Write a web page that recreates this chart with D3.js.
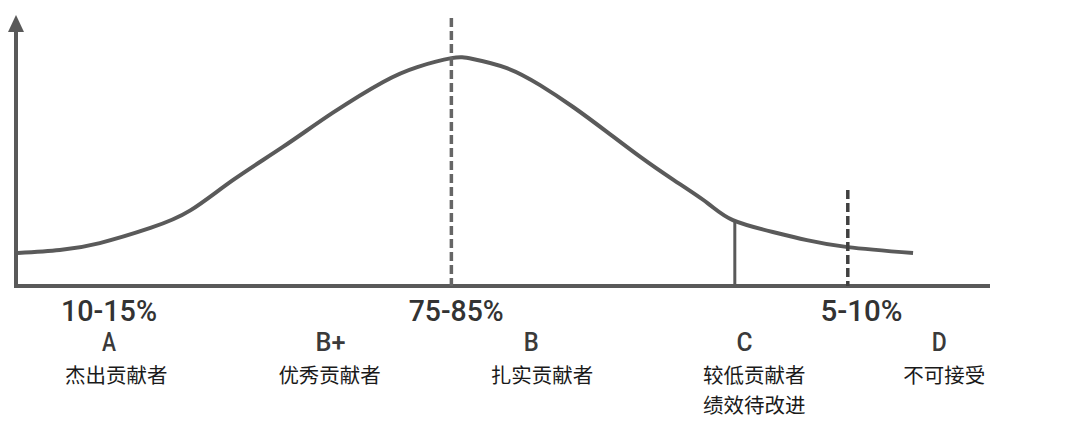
<!DOCTYPE html>
<html>
<head>
<meta charset="utf-8">
<script src="https://cdn.jsdelivr.net/npm/d3@7/dist/d3.min.js"></script>
<style>
  html, body { margin: 0; padding: 0; background: #fff; }
  svg { display: block; }
</style>
</head>
<body>
<svg id="chart" width="1080" height="431"></svg>
<script>
// ---- data ----
const curveX = [0.2, 4.5, 8.6, 13.8, 17.9, 22.3, 27.4, 32.5, 37.7, 41.2, 44.7, 46.9, 50.4, 53.8, 57.2, 60.7, 64.1, 67.5, 71.0, 73.6, 77.7, 81.2, 85.4, 92.1];
const curveY = [12.2, 13.3, 15.9, 21.5, 28.0, 39.3, 51.5, 64.1, 75.6, 81.1, 84.4, 84.1, 80.7, 74.4, 66.3, 57.0, 47.8, 39.3, 30.7, 24.4, 20.0, 17.0, 14.4, 12.2];

const centerDashX = 44.7;   // mean line
const centerDashTop = 99.3;
const lowSolidX = 73.8;     // C boundary
const lowDashX = 85.4;      // D boundary
const lowDashTop = 35.6;

const percentLabels = ["10-15%", "75-85%", "5-10%"];
const percentX = [9.55, 45.2, 86.8];

const gradeLabels = ["A", "B+", "B", "C", "D"];
const gradeX = [9.55, 32.3, 52.9, 74.8, 94.8];

const descLabels = [["杰出贡献者"], ["优秀贡献者"], ["扎实贡献者"], ["较低贡献者", "绩效待改进"], ["不可接受"]];
const descX = [10.3, 32.2, 54.0, 75.8, 95.3];

// ---- layout (styling) ----
const pctWidths = [96, 95, 82];
const gradeWidths = [14, 30, 15, 16, 15];

const svg = d3.select("#chart");
const x = d3.scaleLinear().domain([0, 100]).range([16, 990]);
const y = d3.scaleLinear().domain([0, 100]).range([286, 16]);

const axisColor = "#595959";

// y axis with arrow
svg.append("line")
  .attr("x1", x(0)).attr("x2", x(0))
  .attr("y1", y(0) + 2).attr("y2", 30)
  .attr("stroke", axisColor).attr("stroke-width", 4);
svg.append("path")
  .attr("d", `M${x(0) - 8},32 L${x(0)},15 L${x(0) + 8},32 Z`)
  .attr("fill", axisColor);

// x axis
svg.append("line")
  .attr("x1", x(0) - 2).attr("x2", x(100))
  .attr("y1", y(0)).attr("y2", y(0))
  .attr("stroke", axisColor).attr("stroke-width", 4);

// curve
const pts = curveX.map((v, i) => [v, curveY[i]]);
svg.append("path")
  .datum(pts)
  .attr("d", d3.line().x(d => x(d[0])).y(d => y(d[1])).curve(d3.curveNatural))
  .attr("fill", "none")
  .attr("stroke", "#5a5a5a")
  .attr("stroke-width", 4)
  .attr("stroke-linecap", "butt");

// center dashed line
svg.append("line")
  .attr("x1", x(centerDashX)).attr("x2", x(centerDashX))
  .attr("y1", y(centerDashTop)).attr("y2", y(0))
  .attr("stroke", "#666").attr("stroke-width", 3.5)
  .attr("stroke-dasharray", "9,4");

// C boundary solid line
const interpY = xv => {
  for (let i = 0; i < curveX.length - 1; i++) {
    if (xv >= curveX[i] && xv <= curveX[i + 1]) {
      const t = (xv - curveX[i]) / (curveX[i + 1] - curveX[i]);
      return curveY[i] + t * (curveY[i + 1] - curveY[i]);
    }
  }
  return 0;
};
svg.append("line")
  .attr("x1", x(lowSolidX)).attr("x2", x(lowSolidX))
  .attr("y1", y(interpY(lowSolidX))).attr("y2", y(0))
  .attr("stroke", axisColor).attr("stroke-width", 3);

// D boundary dashed line
svg.append("line")
  .attr("x1", x(lowDashX)).attr("x2", x(lowDashX))
  .attr("y1", y(lowDashTop)).attr("y2", y(0))
  .attr("stroke", "#404040").attr("stroke-width", 3.5)
  .attr("stroke-dasharray", "9,4");

// percent labels
svg.selectAll("text.pct").data(percentLabels).enter().append("text")
  .attr("class", "pct")
  .attr("x", (d, i) => x(percentX[i]))
  .attr("y", 321)
  .attr("text-anchor", "middle")
  .attr("font-family", "Roboto, 'Liberation Sans', sans-serif")
  .attr("font-weight", 500)
  .attr("font-size", 29)
  .attr("textLength", (d, i) => pctWidths[i])
  .attr("lengthAdjust", "spacingAndGlyphs")
  .attr("fill", "#333")
  .text(d => d);

// grade labels
svg.selectAll("text.grade").data(gradeLabels).enter().append("text")
  .attr("class", "grade")
  .attr("x", (d, i) => x(gradeX[i]))
  .attr("y", 351)
  .attr("text-anchor", "middle")
  .attr("font-family", "Roboto, 'Liberation Sans', sans-serif")
  .attr("font-weight", 500)
  .attr("font-size", 26)
  .attr("textLength", (d, i) => gradeWidths[i])
  .attr("lengthAdjust", "spacingAndGlyphs")
  .attr("fill", "#3a3a3a")
  .text(d => d);

// descriptions
descLabels.forEach((lines, i) => {
  const t = svg.append("text")
    .attr("text-anchor", "middle")
    .attr("font-family", "'Noto Sans CJK SC', sans-serif")
    .attr("font-size", 20.5)
    .attr("fill", "#1a1a1a");
  lines.forEach((ln, j) => {
    t.append("tspan")
      .attr("x", x(descX[i]))
      .attr("y", 383 + j * 30)
      .text(ln);
  });
});
</script>
</body>
</html>
